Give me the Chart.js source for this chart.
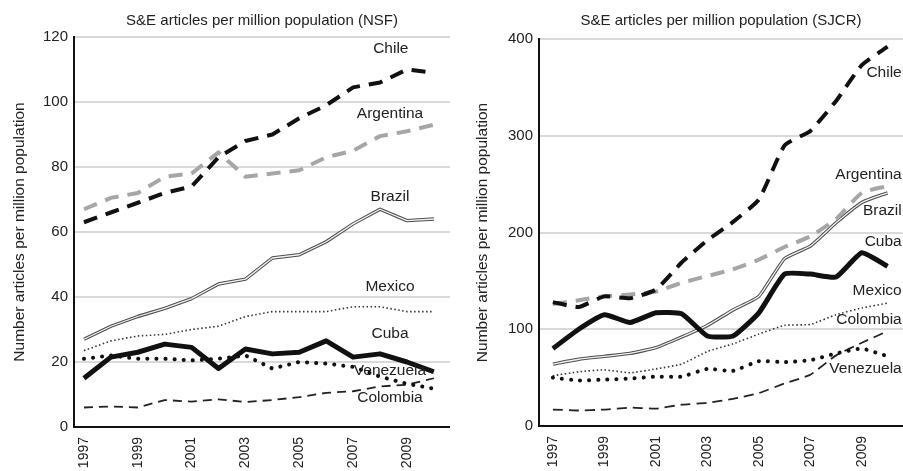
<!DOCTYPE html>
<html>
<head>
<meta charset="utf-8">
<script src="https://cdn.jsdelivr.net/npm/chart.js@4.4.0/dist/chart.umd.min.js"></script>
<style>
  body { margin: 0; background: #fff; }
  #left { position: absolute; left: 0; top: 0; width: 450px; height: 471px; }
  #right { position: absolute; left: 450px; top: 0; width: 453px; height: 471px; }
</style>
</head>
<body>
<div id="left"><canvas id="nsfChart"></canvas></div>
<div id="right"><canvas id="sjcrChart"></canvas></div>
<script>
const years = [1997, 1998, 1999, 2000, 2001, 2002, 2003, 2004, 2005, 2006, 2007, 2008, 2009, 2010];
const tickYears = [1997, 1999, 2001, 2003, 2005, 2007, 2009];

// NSF (left panel)
const nsfChile     = [63, 66, 69, 72, 74, 83, 88, 90, 95, 99, 104.5, 106, 110, 109];
const nsfArgentina = [67, 70.5, 72, 77, 78, 84.5, 77, 78, 79, 83, 85, 89.5, 91, 93];
const nsfBrazil    = [27, 31, 34, 36.5, 39.5, 44, 45.5, 52, 53, 57, 62.5, 67, 63.5, 64];
const nsfMexico    = [23.5, 26.5, 28, 28.5, 30, 31, 34, 35.5, 35.5, 35.5, 37, 37, 35.5, 35.5];
const nsfCuba      = [15, 21.5, 23, 25.5, 24.5, 18, 24, 22.5, 23, 26.5, 21.5, 22.5, 20, 17];
const nsfVenezuela = [21, 22, 21, 21, 20.5, 21, 22, 18, 20, 19.5, 18.5, 15.5, 13.3, 11.8];
const nsfColombia  = [6, 6.3, 6, 8.3, 7.8, 8.5, 7.7, 8.3, 9.2, 10.5, 11, 12.5, 13, 15];

// SJCR (right panel)
const sjcrChile     = [128, 123, 134, 132, 141, 169, 192, 211, 234, 290, 305, 336, 373, 392];
const sjcrArgentina = [126, 130, 134, 136, 139, 148, 155, 162, 172, 185, 196, 214, 241, 248];
const sjcrBrazil    = [64, 69, 72, 75, 81, 92, 104, 120, 134, 173, 186, 210, 231, 241];
const sjcrMexico    = [52, 56, 58, 55, 59, 64, 77, 85, 95, 104, 105, 115, 122, 127];
const sjcrCuba      = [80, 100, 115, 107, 117, 116, 93, 93, 117, 157, 157, 154, 179, 165];
const sjcrVenezuela = [50, 47, 48, 49, 51, 51, 59, 57, 67, 66, 68, 75, 80, 72];
const sjcrColombia  = [17, 16, 17, 19, 18, 22, 24, 28, 34, 44, 53, 73, 86, 98];

// in-plot country labels: [text, year, value]
const nsfLabels = [
  ['Chile', 2008.4, 116.3], ['Argentina', 2008.37, 96.3], ['Brazil', 2008.37, 71],
  ['Mexico', 2008.37, 43.2], ['Cuba', 2008.37, 28.7], ['Venezuela', 2008.37, 17.3],
  ['Colombia', 2008.37, 8.9]
];
const sjcrLabels = [
  ['Chile', 2010.55, 365], ['Argentina', 2010.55, 260], ['Brazil', 2010.55, 223],
  ['Cuba', 2010.55, 190], ['Mexico', 2010.55, 140], ['Colombia', 2010.55, 110],
  ['Venezuela', 2010.55, 59]
];

const FONT = 'Arial, "Liberation Sans", sans-serif';

function pts(vals) {
  return vals.map((v, i) => ({ x: years[i], y: v }));
}

// first dataset ends up on top in chart.js, so the heavy lines come first
function series(right) {
  const c = right
    ? [sjcrChile, sjcrArgentina, sjcrBrazil, sjcrMexico, sjcrCuba, sjcrVenezuela, sjcrColombia]
    : [nsfChile, nsfArgentina, nsfBrazil, nsfMexico, nsfCuba, nsfVenezuela, nsfColombia];
  const base = { pointRadius: 0, fill: false, borderJoinStyle: 'round', tension: right ? 0.15 : 0 };
  return [
    { ...base, label: 'Cuba', data: pts(c[4]), borderColor: '#111', borderWidth: 5 },
    { ...base, label: 'Chile', data: pts(c[0]), borderColor: '#111', borderWidth: 4, borderDash: [14, 9] },
    { ...base, label: 'Argentina', data: pts(c[1]), borderColor: '#a6a6a6', borderWidth: 4, borderDash: [14, 9] },
    { ...base, label: 'Brazil inner', data: pts(c[2]), borderColor: '#f2f2f2', borderWidth: 1.3 },
    { ...base, label: 'Brazil', data: pts(c[2]), borderColor: '#4d4d4d', borderWidth: 3.4 },
    { ...base, label: 'Venezuela', data: pts(c[5]), borderColor: '#111', borderWidth: 4, borderDash: [0.1, 9], borderCapStyle: 'round' },
    { ...base, label: 'Mexico', data: pts(c[3]), borderColor: '#333', borderWidth: 1.6, borderDash: [1.5, 2.5] },
    { ...base, label: 'Colombia', data: pts(c[6]), borderColor: '#222', borderWidth: 1.8, borderDash: right ? [10, 6] : [9, 6] }
  ];
}

const textPlugin = {
  id: 'texts',
  afterDraw(chart, args, opts) {
    const ctx = chart.ctx;
    const a = chart.chartArea;
    const xs = chart.scales.x, ys = chart.scales.y;
    ctx.save();
    ctx.fillStyle = '#222';
    ctx.textBaseline = 'middle';
    ctx.font = '15px ' + FONT;
    ctx.textAlign = 'center';
    ctx.fillText(opts.title, (a.left + a.right) / 2, 21);
    ctx.font = '15.5px ' + FONT;
    for (const [t, x, y] of opts.labels) {
      ctx.textAlign = opts.align;
      ctx.fillText(t, xs.getPixelForValue(x), ys.getPixelForValue(y));
    }
    ctx.restore();
  }
};

function makeChart(id, right) {
  new Chart(document.getElementById(id), {
    type: 'line',
    data: { datasets: series(right) },
    plugins: [textPlugin],
    options: {
      responsive: true,
      maintainAspectRatio: false,
      animation: false,
      layout: { padding: { top: right ? 39 : 37, right: 0, left: 0, bottom: 0 } },
      plugins: {
        legend: { display: false },
        tooltip: { enabled: false },
        texts: {
          title: right ? 'S&E articles per million population (SJCR)' : 'S&E articles per million population (NSF)',
          labels: right ? sjcrLabels : nsfLabels,
          align: right ? 'right' : 'center'
        }
      },
      scales: {
        x: {
          type: 'linear',
          min: right ? 1996.46 : 1996.63,
          max: right ? 2010.6 : 2010.6,
          grid: { display: false, drawTicks: false },
          border: { color: '#111', width: 2 },
          afterBuildTicks: axis => { axis.ticks = tickYears.map(v => ({ value: v })); },
          afterFit: axis => { axis.height = right ? 45 : 44; },
          ticks: {
            minRotation: 90, maxRotation: 90, padding: 10, color: '#222',
            font: { size: 14, family: FONT },
            callback: v => String(v)
          }
        },
        y: {
          min: 0,
          max: right ? 400 : 120,
          grid: { color: '#d9d9d9', lineWidth: 2, drawTicks: false },
          border: { color: '#111', width: 2 },
          afterFit: axis => { axis.width = right ? 89 : 74; },
          ticks: {
            stepSize: right ? 100 : 20, padding: 6, color: '#222',
            font: { size: 15, family: FONT }
          },
          title: {
            display: true,
            text: 'Number articles per million population',
            color: '#222',
            font: { size: 15.5, family: FONT },
            padding: { top: right ? 23 : 10, bottom: 0 }
          }
        }
      }
    }
  });
}

makeChart('nsfChart', false);
makeChart('sjcrChart', true);
</script>
</body>
</html>
